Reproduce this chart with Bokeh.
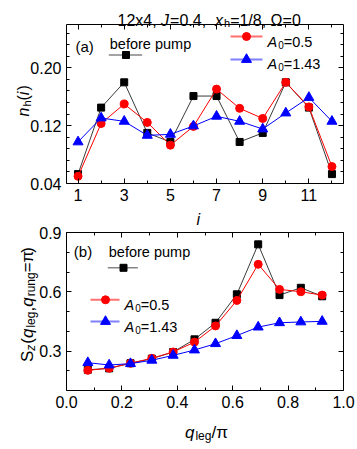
from bokeh.plotting import figure
from bokeh.models import Label, LinearAxis, FixedTicker, PrintfTickFormatter, Range1d
from bokeh.embed import file_html
from bokeh.resources import INLINE

# ---------------- data ----------------
site = [1, 2, 3, 4, 5, 6, 7, 8, 9, 10, 11, 12]
nh_before = [0.053, 0.145, 0.180, 0.110, 0.0975, 0.161, 0.161, 0.0975, 0.110, 0.180, 0.145, 0.053]
nh_a05 = [0.050, 0.123, 0.150, 0.1245, 0.093, 0.119, 0.1706, 0.144, 0.130, 0.180, 0.146, 0.0634]
nh_a143 = [0.0975, 0.1306, 0.126, 0.1066, 0.108, 0.1196, 0.133, 0.126, 0.1154, 0.1375, 0.159, 0.126]

qleg = [0.077, 0.154, 0.231, 0.308, 0.385, 0.462, 0.538, 0.615, 0.692, 0.769, 0.846, 0.923]
sz_before = [0.205, 0.212, 0.238, 0.261, 0.295, 0.359, 0.443, 0.587, 0.840, 0.583, 0.620, 0.577]
sz_a05 = [0.202, 0.213, 0.238, 0.263, 0.295, 0.345, 0.427, 0.556, 0.739, 0.612, 0.600, 0.583]
sz_a143 = [0.241, 0.229, 0.236, 0.253, 0.278, 0.305, 0.337, 0.378, 0.421, 0.443, 0.447, 0.450]

a_xlim = (0.5, 12.5)
a_ylim = (0.04, 0.26)
a_xticks = [1, 3, 5, 7, 9, 11]
a_xminor = [2, 4, 6, 8, 10, 12]
a_yticks = [0.04, 0.12, 0.20]
a_yminor = [0.056, 0.072, 0.088, 0.104, 0.136, 0.152, 0.168, 0.184, 0.216, 0.232, 0.248]
b_xlim = (0.0, 1.0)
b_ylim = (0.1, 0.9)
b_xticks = [0.0, 0.2, 0.4, 0.6, 0.8, 1.0]
b_xminor = [0.1, 0.3, 0.5, 0.7, 0.9]
b_yticks = [0.3, 0.6, 0.9]
b_yminor = [0.2, 0.4, 0.5, 0.7, 0.8]

FONT = "Liberation Sans"
BLACK_LINE = "#3a3a3a"
RED = "#ff0000"
BLUE = "#0000ff"

# ---------------- layout (page pixels; the page body has no margin) ----------------
FIG_X, FIG_Y, FIG_W, FIG_H = 0, 0, 356, 448
BOX_L, BOX_R = 66, 343
A_TOP, A_BOT = 24, 183
B_TOP, B_BOT = 232, 390


def mapping(lim_x, lim_y, top, bot):
    kx = (lim_x[1] - lim_x[0]) / (BOX_R - BOX_L)
    ky = (lim_y[1] - lim_y[0]) / (bot - top)
    fx = lambda px: lim_x[0] + (px - BOX_L) * kx
    fy = lambda py: lim_y[0] + (bot - py) * ky
    xr = (fx(FIG_X), fx(FIG_X + FIG_W))
    yr = (fy(FIG_Y + FIG_H), fy(FIG_Y))
    return fx, fy, xr, yr


fxa, fya, xra, yra = mapping(a_xlim, a_ylim, A_TOP, A_BOT)
fxb, fyb, xrb, yrb = mapping(b_xlim, b_ylim, B_TOP, B_BOT)

p = figure(width=FIG_W, height=FIG_H, x_range=Range1d(*xra), y_range=Range1d(*yra),
           output_backend="svg", toolbar_location=None, x_axis_location=None, y_axis_location=None,
           min_border=0, min_border_left=0, min_border_right=0, min_border_top=0, min_border_bottom=0)
p.extra_x_ranges = {"b": Range1d(*xrb)}
p.extra_y_ranges = {"b": Range1d(*yrb)}
p.xgrid.visible = False
p.ygrid.visible = False
p.outline_line_color = None
p.background_fill_color = "white"
p.border_fill_color = "white"


def add_axis(loc, rn, ticks, minor, bounds, fixed, fmt, labels=True):
    ax = LinearAxis(ticker=FixedTicker(ticks=ticks, minor_ticks=minor),
                    formatter=PrintfTickFormatter(format=fmt),
                    bounds=bounds, fixed_location=fixed,
                    major_tick_in=5, major_tick_out=0, minor_tick_in=3, minor_tick_out=0,
                    axis_line_color="black", axis_line_width=1,
                    major_tick_line_color="black", minor_tick_line_color="black",
                    major_label_text_font=FONT, major_label_text_font_size="16px",
                    major_label_standoff=5,
                    major_label_text_color="black" if labels else None)
    if rn == "b":
        ax.x_range_name = "b"
        ax.y_range_name = "b"
    p.add_layout(ax, loc)


# panel (a) box
add_axis("below", "a", a_xticks, a_xminor, a_xlim, a_ylim[0], "%d")
add_axis("above", "a", a_xticks, a_xminor, a_xlim, a_ylim[1], "%d", labels=False)
add_axis("left", "a", a_yticks, a_yminor, a_ylim, a_xlim[0], "%.2f")
add_axis("right", "a", a_yticks, a_yminor, a_ylim, a_xlim[1], "%.2f", labels=False)
# panel (b) box
add_axis("below", "b", b_xticks, b_xminor, b_xlim, b_ylim[0], "%.1f")
add_axis("above", "b", b_xticks, b_xminor, b_xlim, b_ylim[1], "%.1f", labels=False)
add_axis("left", "b", b_yticks, b_yminor, b_ylim, b_xlim[0], "%.1f")
add_axis("right", "b", b_yticks, b_yminor, b_ylim, b_xlim[1], "%.1f", labels=False)


def draw_series(x, y, color, lcolor, marker, size, rn="default"):
    p.line(x, y, line_color=lcolor, line_width=1, x_range_name=rn, y_range_name=rn)
    p.scatter(x, y, marker=marker, size=size, fill_color=color, line_color=color,
              x_range_name=rn, y_range_name=rn)


draw_series(site, nh_before, "black", BLACK_LINE, "square", 7)
draw_series(site, nh_a05, RED, RED, "circle", 8)
draw_series(site, nh_a143, BLUE, BLUE, "triangle", 10)
draw_series(qleg, sz_before, "black", BLACK_LINE, "square", 7, "b")
draw_series(qleg, sz_a05, RED, RED, "circle", 8, "b")
draw_series(qleg, sz_a143, BLUE, BLUE, "triangle", 10, "b")

# ---------------- texts ----------------
W = {' ': 278, '(': 333, ')': 333, ',': 278, '.': 278, '/': 278, '=': 584,
     '0': 556, '1': 556, '2': 556, '3': 556, '4': 556, '5': 556, '6': 556, '7': 556, '8': 556, '9': 556,
     'A': 667, 'J': 500, 'S': 667, 'b': 556, 'e': 556, 'f': 278, 'g': 556, 'h': 556, 'i': 222,
     'l': 222, 'm': 833, 'n': 556, 'o': 556, 'p': 556, 'q': 556, 'r': 333, 'u': 556, 'x': 500,
     'z': 500, 'Ω': 768, 'π': 570}


def tw(s, size):
    return sum(W.get(c, 556) for c in s) / 1000.0 * size


def put_runs(x0, y0, runs, angle=0.0):
    adv = 0.0
    for txt, size, italic, dy in runs:
        if angle == 0.0:
            px, py = x0 + adv, y0 + dy
        else:
            px, py = x0 + dy, y0 - adv
        p.add_layout(Label(x=fxa(px), y=fya(py), text=txt, text_font=FONT,
                           text_font_size=f"{size}px",
                           text_font_style="italic" if italic else "normal",
                           angle=angle, text_align="left", text_baseline="alphabetic",
                           text_color="black"))
        adv += tw(txt, size) + (1.0 if italic else 0.0)


def legend_key(x0, x1, y, xm, marker, size, color, lcolor, lw, la):
    p.line([fxa(x0), fxa(x1)], [fya(y), fya(y)], line_color=lcolor, line_width=lw, line_alpha=la)
    p.scatter([fxa(xm)], [fya(y)], marker=marker, size=size, fill_color=color, line_color=color)


# title
put_runs(117, 19.5, [("12x4, ", 16, False, 0), ("J", 16, True, 0), (" =0.4, ", 16, False, 0),
                     ("x", 16, True, 0), ("h", 11, False, 3), ("=1/8, Ω=0", 16, False, 0)])
# panel (a)
put_runs(75, 46, [("(a)", 15, False, 0)])
put_runs(109.3, 43.3, [("before pump", 14.5, False, 0)])
put_runs(267, 41.7, [("A", 14.5, True, 0), ("0", 10, False, 3), ("=0.5", 14.5, False, 0)])
put_runs(267, 63.3, [("A", 14.5, True, 0), ("0", 10, False, 3), ("=1.43", 14.5, False, 0)])
put_runs(23, 116, [("n", 16, True, 0), ("h", 11, False, 3), ("(", 16, False, 0),
                   ("i", 16, True, 0), (")", 16, False, 0)], angle=1.5707963)
put_runs(196, 219, [("i", 16, True, 0)])
legend_key(108.3, 141.7, 54.5, 125.5, "square", 7, "black", "#666666", 1.5, 0.8)
legend_key(230, 262, 36, 246, "circle", 8, RED, "#ff7070", 2, 1.0)
legend_key(230, 262, 59, 246, "triangle", 10, BLUE, "#8080ff", 2, 1.0)
# panel (b)
put_runs(73.3, 251, [("(b)", 15, False, 0)])
put_runs(108.3, 251, [("before pump", 14.5, False, 0)])
put_runs(124, 304.3, [("A", 14.5, True, 0), ("0", 10, False, 3), ("=0.5", 14.5, False, 0)])
put_runs(124, 326, [("A", 14.5, True, 0), ("0", 10, False, 3), ("=1.43", 14.5, False, 0)])
put_runs(27, 361.5, [("S", 17, False, 0), ("z", 12, True, 3.5), ("(", 17, False, 0),
                     ("q", 17, True, 0), ("leg", 12, False, 3.5), (",", 17, False, 0),
                     ("q", 17, True, 0), ("rung", 12, False, 3.5), ("=", 17, False, 0),
                     ("π", 17, False, 0), (")", 17, False, 0)], angle=1.5707963)
put_runs(184.5, 432, [("q", 17, True, 0), ("leg", 12, False, 3.5), ("/π", 17, False, 0)])
legend_key(107.3, 137.3, 267.3, 123, "square", 7, "black", "#666666", 1.5, 0.8)
legend_key(90, 119, 299.3, 105, "circle", 8, RED, "#ff7070", 2, 1.0)
legend_key(90, 119, 321, 105, "triangle", 10, BLUE, "#8080ff", 2, 1.0)

open("out.html", "w").write(file_html(p, INLINE))
